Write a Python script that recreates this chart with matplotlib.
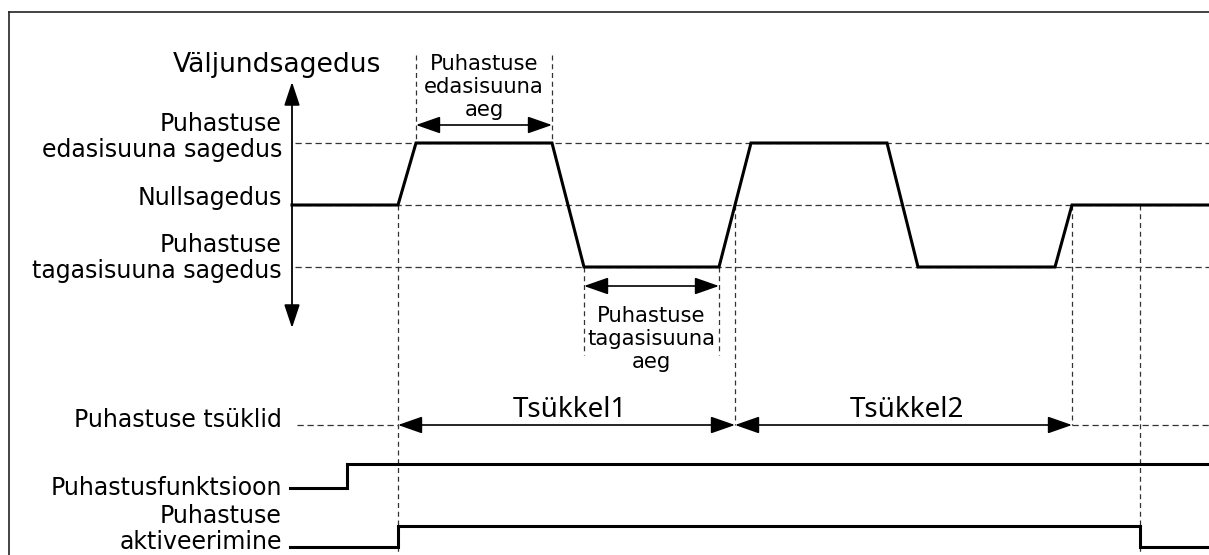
import matplotlib
matplotlib.use('Agg')
import matplotlib.pyplot as plt

# diagram units: x = time (px), y = px from the top
W, H = 1209, 555

# frequency levels
y_fwd, y_zero, y_rev = 143, 205, 267

# output frequency trace
t_freq = [292, 398, 416, 552, 584, 719, 751, 887, 918, 1055, 1072, 1209]
y_freq = [y_zero, y_zero, y_fwd, y_fwd, y_rev, y_rev, y_fwd, y_fwd, y_rev, y_rev, y_zero, y_zero]

# cleaning function signal (low/high)
t_func = [290, 347, 347, 1209]
y_func = [488, 488, 464, 464]

# cleaning activation signal
t_act = [290, 398, 398, 1140, 1140, 1209]
y_act = [547, 547, 526, 526, 547, 547]

# cycles
cycle_edges = [398, 735, 1072]
cycle_names = ['Tsükkel1', 'Tsükkel2']
y_cycle = 425

# forward / reverse time brackets
fwd_time = (416, 552)
rev_time = (584, 719)

fig = plt.figure(figsize=(W / 100, H / 100), dpi=100)
ax = fig.add_axes([0, 0, 1, 1])
ax.set_xlim(0, W)
ax.set_ylim(H, 0)
ax.axis('off')

dash = dict(color='#333333', lw=0.9, ls=(0, (5, 3)))
vdash = dict(color='#333333', lw=0.9, ls=(0, (4, 3)))
sig = dict(color='black', lw=2.2, solid_joinstyle='miter')
fs = 17
fs_mid = 15.2

# frame (top and left only)
ax.plot([9, W], [12, 12], color='#222222', lw=1.2)
ax.plot([9, 9], [12, H], color='#222222', lw=1.2)

# horizontal reference lines
for yy in (y_fwd, y_zero, y_rev):
    ax.plot([295, W], [yy, yy], **dash)

# vertical reference lines
ax.plot([t_freq[1]] * 2, [y_zero, H], **vdash)
ax.plot([fwd_time[0]] * 2, [55, y_fwd], **vdash)
ax.plot([fwd_time[1]] * 2, [55, y_fwd], **vdash)
ax.plot([rev_time[0]] * 2, [y_rev, 355], **vdash)
ax.plot([rev_time[1]] * 2, [y_rev, 355], **vdash)
ax.plot([cycle_edges[1]] * 2, [y_zero, y_cycle], **vdash)
ax.plot([cycle_edges[2]] * 2, [y_zero, y_cycle], **vdash)
ax.plot([t_act[3]] * 2, [y_zero, H], **vdash)

# signals
ax.plot(t_freq, y_freq, **sig)
ax.plot(t_func, y_func, **sig)
ax.plot(t_act, y_act, **sig)

# vertical frequency axis
ax.annotate('', xy=(292, 82), xytext=(292, 328),
            arrowprops=dict(arrowstyle='<|-|>,head_length=0.9,head_width=0.3',
                            mutation_scale=16, color='black', lw=1.3,
                            shrinkA=0, shrinkB=0))

def harrow(x0, x1, y):
    ax.annotate('', xy=(x1, y), xytext=(x0, y),
                arrowprops=dict(arrowstyle='<|-|>,head_length=1.0,head_width=0.35',
                                mutation_scale=15, color='black', lw=1.2,
                                shrinkA=0, shrinkB=0))

harrow(*fwd_time, 125)
harrow(*rev_time, 286)

# cycle row
ax.plot([297, cycle_edges[0]], [y_cycle, y_cycle], **dash)
ax.plot([cycle_edges[-1], W], [y_cycle, y_cycle], **dash)
for i, name in enumerate(cycle_names):
    harrow(cycle_edges[i], cycle_edges[i + 1], y_cycle)
    ax.text((cycle_edges[i] + cycle_edges[i + 1]) / 2 + 3, 417, name,
            ha='center', va='baseline', fontsize=20, family='Noto Sans')

# texts
ax.text(381, 72, 'Väljundsagedus', ha='right', va='baseline', fontsize=19.2)
lab = dict(ha='right', va='baseline', fontsize=fs, linespacing=1.1)
ax.text(282, 157, 'Puhastuse\nedasisuuna sagedus', **lab)
ax.text(282, 205, 'Nullsagedus', **lab)
ax.text(282, 278, 'Puhastuse\ntagasisuuna sagedus', **lab)
ax.text(282, 427, 'Puhastuse tsüklid', **lab)
ax.text(282, 495, 'Puhastusfunktsioon', **lab)
ax.text(282, 549, 'Puhastuse\naktiveerimine', **lab)

mid = dict(ha='center', va='baseline', fontsize=fs_mid, linespacing=1.2)
ax.text(sum(fwd_time) / 2, 116, 'Puhastuse\nedasisuuna\naeg', **mid)
ax.text(sum(rev_time) / 2, 368, 'Puhastuse\ntagasisuuna\naeg', **mid)

fig.savefig('out.png', dpi=100, facecolor='white')
